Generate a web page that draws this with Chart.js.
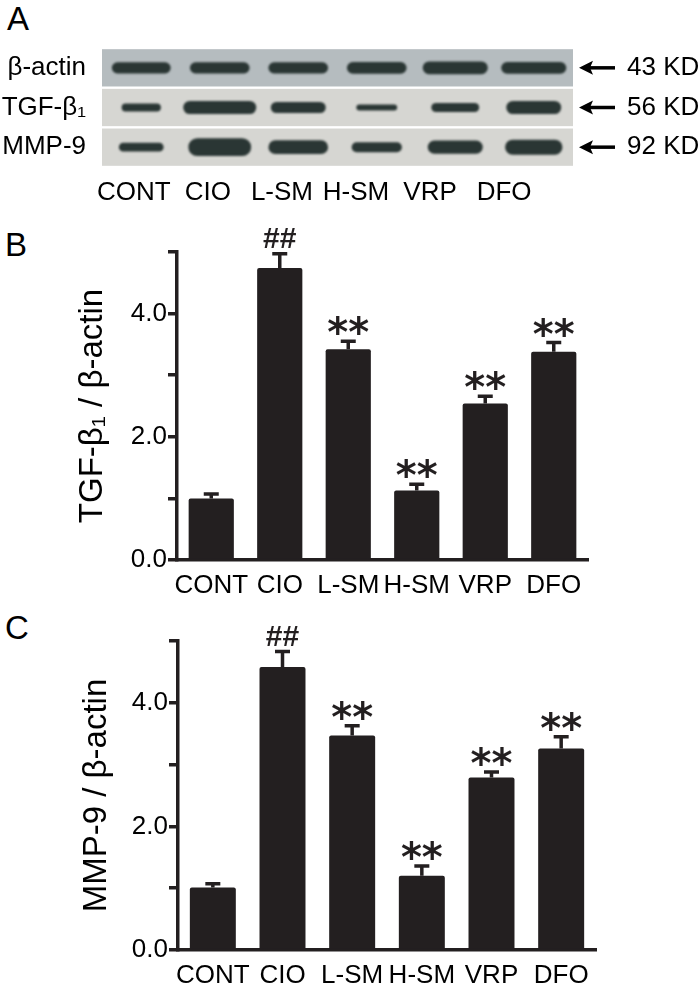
<!DOCTYPE html>
<html>
<head>
<meta charset="utf-8">
<script src="https://cdn.jsdelivr.net/npm/chart.js@4.4.1/dist/chart.umd.min.js"></script>
<style>
  body { margin: 0; background: #fff; width: 700px; height: 985px; position: relative; overflow: hidden; font-family: 'Liberation Sans', Arial, sans-serif; }
  canvas { position: absolute; left: 0; }
  .panel { position: absolute; font-size: 33px; line-height: 1; color: #000; }
</style>
</head>
<body>
<div class="panel" style="left:7px;top:2px">A</div>
<div class="panel" style="left:5px;top:228px">B</div>
<div class="panel" style="left:5px;top:611px">C</div>
<canvas id="blot" width="700" height="200" style="top:0"></canvas>
<canvas id="tgf" width="700" height="396" style="top:200px"></canvas>
<canvas id="mmp" width="700" height="395" style="top:590px"></canvas>
<script>
// groups
const groups = ['CONT', 'CIO', 'L-SM', 'H-SM', 'VRP', 'DFO'];

// panel B: TGF-b1 / b-actin
const tgfMean = [1.00, 4.74, 3.42, 1.13, 2.54, 3.38];
const tgfErr = [0.07, 0.23, 0.13, 0.10, 0.12, 0.15];
const tgfMarks = ['', '##', '**', '**', '**', '**'];

// panel C: MMP-9 / b-actin
const mmpMean = [1.01, 4.58, 3.47, 1.20, 2.79, 3.26];
const mmpErr = [0.06, 0.25, 0.16, 0.16, 0.09, 0.19];
const mmpMarks = ['', '##', '**', '**', '**', '**'];

// axis ticks
const yTickValues = [0, 1, 2, 3, 4, 5];
const yTickLabels = ['0.0', '', '2.0', '', '4.0', ''];

// panel A: western blot (band width as share of lane, band thickness in row units)
const blotRows = ['β-actin', 'TGF-β₁', 'MMP-9'];
const blotKD = ['43 KD', '56 KD', '92 KD'];
const bandWidth = [
  [0.75, 0.76, 0.76, 0.76, 0.83, 0.83],
  [0.50, 0.93, 0.70, 0.52, 0.61, 0.70],
  [0.57, 0.80, 0.76, 0.64, 0.70, 0.73]
];
const bandThick = [
  [0.28, 0.28, 0.28, 0.30, 0.32, 0.30],
  [0.20, 0.33, 0.28, 0.15, 0.23, 0.33],
  [0.22, 0.45, 0.35, 0.25, 0.33, 0.38]
];

const INK = '#231f20';
const SANS = "'Liberation Sans', Arial, sans-serif";
const NARROW = "'Liberation Sans Narrow', 'Arial Narrow', sans-serif";

// kill the label-overflow padding so the plot area lands where asked
function noPad(s) {
  s.paddingTop = 0; s.paddingBottom = 0; s.paddingLeft = 0; s.paddingRight = 0;
}

// ---------- western blot ----------
const blotBg = ['#b5bcbf', '#d6d6d2', '#d6d6d2'];
const blotSets = [];
blotRows.forEach((row, r) => {
  groups.forEach((g, l) => {
    blotSets.push({
      data: groups.map((_, i) => i === l ? [r - bandThick[r][l] / 2, r + bandThick[r][l] / 2] : null),
      backgroundColor: '#2a3634',
      barPercentage: bandWidth[r][l],
      categoryPercentage: 1,
      grouped: false,
      borderRadius: 30,
      borderSkipped: false
    });
  });
});

const blotPlugin = {
  id: 'blotPlugin',
  beforeDatasetsDraw(chart) {
    const {ctx, chartArea, scales: {y}} = chart;
    ctx.save();
    blotRows.forEach((_, r) => {
      const a = y.getPixelForValue(r - 0.47);
      const b = y.getPixelForValue(r + 0.47);
      ctx.fillStyle = blotBg[r];
      ctx.fillRect(chartArea.left, Math.min(a, b), chartArea.right - chartArea.left, Math.abs(b - a));
    });
    ctx.restore();
    ctx.save();
    ctx.filter = 'blur(0.8px)';
  },
  afterDatasetsDraw(chart) {
    chart.ctx.restore();
  },
  afterDraw(chart) {
    // arrows pointing at each row
    const {ctx, chartArea, scales: {y}} = chart;
    ctx.save();
    ctx.strokeStyle = '#000';
    ctx.fillStyle = '#000';
    ctx.lineWidth = 3.5;
    blotRows.forEach((_, r) => {
      const py = y.getPixelForValue(r);
      const x0 = chartArea.right + 6, x1 = chartArea.right + 42;
      ctx.beginPath();
      ctx.moveTo(x0 + 8, py);
      ctx.lineTo(x1, py);
      ctx.stroke();
      ctx.beginPath();
      ctx.moveTo(x0, py);
      ctx.lineTo(x0 + 14, py - 7);
      ctx.lineTo(x0 + 11, py);
      ctx.lineTo(x0 + 14, py + 7);
      ctx.closePath();
      ctx.fill();
    });
    ctx.restore();
  }
};

new Chart(document.getElementById('blot'), {
  type: 'bar',
  data: { labels: groups, datasets: blotSets },
  options: {
    responsive: false,
    animation: false,
    layout: { padding: { left: 0, right: 0, top: 48, bottom: 0 } },
    plugins: { legend: { display: false }, tooltip: { enabled: false } },
    scales: {
      x: {
        type: 'category', position: 'bottom',
        afterFit: s => { s.height = 0; noPad(s); },
        grid: { display: false }, border: { display: false }, ticks: { display: false }
      },
      lane: {
        type: 'linear', position: 'bottom', min: -0.43, max: 5.93, offset: false,
        afterBuildTicks: s => { s.ticks = groups.map((_, i) => ({ value: i })); },
        afterFit: s => { s.height = 33; noPad(s); },
        grid: { display: false, offset: false }, border: { display: false },
        ticks: { callback: v => groups[v], color: '#000', padding: 2, autoSkip: false, maxRotation: 0,
                 font: { family: NARROW, size: 26 } }
      },
      y: {
        type: 'linear', position: 'left', min: -0.5, max: 2.5, reverse: true,
        afterBuildTicks: s => { s.ticks = blotRows.map((_, i) => ({ value: i })); },
        afterFit: s => { s.width = 102; noPad(s); },
        grid: { display: false }, border: { display: false },
        ticks: { callback: v => blotRows[v], color: '#000', padding: 8, font: { family: SANS, size: 26 } }
      },
      kd: {
        type: 'linear', position: 'right', min: -0.5, max: 2.5, reverse: true,
        afterBuildTicks: s => { s.ticks = blotKD.map((_, i) => ({ value: i })); },
        afterFit: s => { s.width = 127; noPad(s); },
        grid: { display: false }, border: { display: false },
        ticks: { callback: v => blotKD[v], color: '#000', padding: 46, font: { family: SANS, size: 26 } }
      }
    }
  },
  plugins: [blotPlugin]
});

// ---------- bar panels ----------
function errorPlugin(means, errs, marks) {
  return {
    id: 'errorMarks',
    afterDatasetsDraw(chart) {
      const {ctx, scales: {x, y}} = chart;
      ctx.save();
      ctx.strokeStyle = INK;
      ctx.fillStyle = INK;
      ctx.lineWidth = 3.5;
      means.forEach((m, i) => {
        const px = x.getPixelForValue(i);
        const top = y.getPixelForValue(m + errs[i]);
        ctx.beginPath();
        ctx.moveTo(px, y.getPixelForValue(m));
        ctx.lineTo(px, top);
        ctx.moveTo(px - 7.5, top);
        ctx.lineTo(px + 7.5, top);
        ctx.stroke();
        if (marks[i]) {
          const isHash = marks[i][0] === '#';
          ctx.font = isHash ? 'bold 30px ' + SANS : "bold 40px 'DejaVu Sans', sans-serif";
          ctx.textAlign = 'center';
          ctx.textBaseline = 'alphabetic';
          const mt = ctx.measureText(marks[i]);
          const h = mt.actualBoundingBoxAscent + mt.actualBoundingBoxDescent;
          const cy = top - 16;
          ctx.fillText(marks[i], px, cy + mt.actualBoundingBoxAscent - h / 2);
        }
      });
      ctx.restore();
    }
  };
}

function barPanel(id, means, errs, marks, title, pad, yWidth, xHeight) {
  new Chart(document.getElementById(id), {
    type: 'bar',
    data: {
      labels: groups,
      datasets: [{
        data: means,
        backgroundColor: INK,
        barPercentage: 0.66,
        categoryPercentage: 1,
        borderRadius: 2,
        borderSkipped: 'bottom'
      }]
    },
    options: {
      responsive: false,
      animation: false,
      layout: { padding: pad },
      plugins: { legend: { display: false }, tooltip: { enabled: false } },
      scales: {
        x: {
          type: 'category',
          afterFit: s => { s.height = xHeight; noPad(s); },
          grid: { display: false },
          border: { display: true, color: INK, width: 3.5 },
          ticks: { color: '#000', padding: 2, autoSkip: false, maxRotation: 0, font: { family: SANS, size: 26 } }
        },
        y: {
          type: 'linear', min: 0, max: 5,
          afterBuildTicks: s => { s.ticks = yTickValues.map(v => ({ value: v })); },
          afterFit: s => { s.width = yWidth; noPad(s); },
          grid: { drawOnChartArea: false, drawTicks: true, tickLength: 9, color: INK, lineWidth: 3.5 },
          border: { display: true, color: INK, width: 3.5 },
          ticks: { callback: (v, i) => yTickLabels[i], color: '#000', padding: 1, font: { family: SANS, size: 26 } },
          title: { display: true, text: title, color: '#000', padding: 0, font: { family: SANS, size: 33 } }
        }
      }
    },
    plugins: [errorPlugin(means, errs, marks)]
  });
}

barPanel('tgf', tgfMean, tgfErr, tgfMarks, 'TGF-β₁ / β-actin',
  { left: 73, right: 112, top: 52, bottom: 0 }, 104, 36);
barPanel('mmp', mmpMean, mmpErr, mmpMarks, 'MMP-9 / β-actin',
  { left: 77, right: 104, top: 51, bottom: 0 }, 101, 35);
</script>
</body>
</html>
